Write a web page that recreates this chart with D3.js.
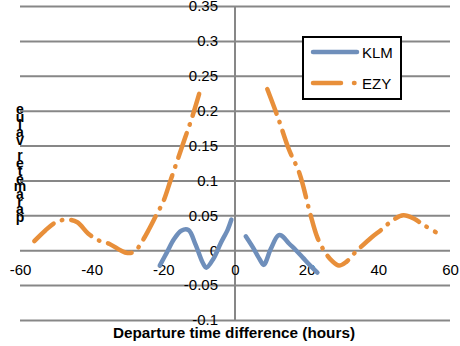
<!DOCTYPE html>
<html>
<head>
<meta charset="utf-8">
<script src="https://cdn.jsdelivr.net/npm/d3@7"></script>
<style>
  body { margin: 0; background: #fff; }
  svg { display: block; font-family: "Liberation Sans", Arial, sans-serif; }
</style>
</head>
<body>
<svg id="chart" width="460" height="346"></svg>
<script>
// values (hours, parameter value); null = gap in the line
const klmHours  = [-21, -19, -17, -15, -13, -11, -9, -8, -6, -4, -2, -1, null, 3, 5, 7, 8, 10, 12, 13, 15, 17, 19, 21, 23];
const klmValues = [-0.022, -0.003, 0.016, 0.028, 0.029, 0.008, -0.018, -0.025, -0.012, 0.01, 0.03, 0.044, null,
                   0.02, 0.004, -0.014, -0.021, 0.002, 0.021, 0.021, 0.01, 0.0, -0.011, -0.022, -0.032];

const ezyHours  = [-56, -53, -50, -47, -44, -41, -38, -35, -32, -30, -28, -26, -24, -22, -20, -18, -16, -14, -12, -10,
                   null, 9, 12, 15, 18, 21, 23, 25, 27, 29, 31, 33, 35, 38, 41, 44, 47, 50, 53, 56];
const ezyValues = [0.013, 0.028, 0.040, 0.044, 0.040, 0.024, 0.014, 0.009, 0.0, -0.004, -0.002, 0.012, 0.03, 0.05, 0.07,
                   0.1, 0.13, 0.16, 0.19, 0.224,
                   null, 0.231, 0.19, 0.145, 0.11, 0.052, 0.018, -0.002, -0.015, -0.022, -0.017, -0.006, 0.004, 0.018,
                   0.03, 0.043, 0.05, 0.045, 0.035, 0.026];

const seriesNames = ["KLM", "EZY"];
const seriesColors = ["#6f8fbb", "#e88f3a"];

const xTicks = [-60, -40, -20, 0, 20, 40, 60];
const xLabels = ["-60", "-40", "-20", "0", "20", "40", "60"];
const yTicks = [0.35, 0.3, 0.25, 0.2, 0.15, 0.1, 0.05, 0, -0.05, -0.1];
const yLabels = ["0.35", "0.3", "0.25", "0.2", "0.15", "0.1", "0.05", "0", "-0.05", "-0.1"];

const yTitle = "parameter value";
const xTitle = "Departure time difference (hours)";

const svg = d3.select("#chart");

const x = d3.scaleLinear().domain([-60, 60]).range([20, 450]);
const y = d3.scaleLinear().domain([-0.1, 0.35]).range([320, 6]);

const gridColor = "#878787";

// horizontal gridlines
svg.append("g")
  .call(d3.axisLeft(y).tickValues(yTicks).tickSize(-(x.range()[1] - x.range()[0])).tickFormat(""))
  .attr("transform", `translate(${x.range()[0]},0)`)
  .call(g => g.select(".domain").remove())
  .call(g => g.selectAll("line").attr("stroke", gridColor).attr("stroke-width", 2));

// vertical axis line at x = 0
svg.append("line")
  .attr("x1", x(0)).attr("x2", x(0))
  .attr("y1", y(0.35)).attr("y2", y(-0.1))
  .attr("stroke", gridColor).attr("stroke-width", 2);

// y tick labels
svg.append("g")
  .attr("transform", `translate(${x(0)},0)`)
  .call(d3.axisLeft(y).tickValues(yTicks).tickSize(0).tickPadding(17).tickFormat((d, i) => yLabels[i]))
  .call(g => g.select(".domain").remove())
  .call(g => g.selectAll("text").attr("font-size", 15).attr("fill", "#000").attr("font-family", null));

// x tick labels
svg.append("g")
  .attr("transform", `translate(0,${y(0)})`)
  .call(d3.axisBottom(x).tickValues(xTicks).tickSize(0).tickPadding(14.5).tickFormat((d, i) => xLabels[i]))
  .call(g => g.select(".domain").remove())
  .call(g => g.selectAll("text").attr("font-size", 15).attr("fill", "#000").attr("font-family", null));

// lines
const line = d3.line()
  .defined(d => d[0] != null && d[1] != null)
  .x(d => x(d[0]))
  .y(d => y(d[1]))
  .curve(d3.curveCatmullRom.alpha(0.5));

const klm = d3.zip(klmHours, klmValues);
const ezy = d3.zip(ezyHours, ezyValues);

svg.append("path")
  .attr("d", line(klm))
  .attr("fill", "none")
  .attr("stroke", seriesColors[0])
  .attr("stroke-width", 4.5)
  .attr("stroke-linecap", "round")
  .attr("stroke-linejoin", "round");

svg.append("path")
  .attr("d", line(ezy))
  .attr("fill", "none")
  .attr("stroke", seriesColors[1])
  .attr("stroke-width", 4.5)
  .attr("stroke-linecap", "round")
  .attr("stroke-linejoin", "round")
  .attr("stroke-dasharray", "26,9,0.5,9");

// y title: letters stacked bottom to top
const letters = yTitle.split("");
svg.append("g")
  .selectAll("text")
  .data(letters)
  .join("text")
  .attr("x", 20)
  .attr("y", (d, i) => 222 - i * 7.7)
  .attr("text-anchor", "middle")
  .attr("font-size", 14)
  .attr("font-weight", "bold")
  .text(d => d);

// x title
svg.append("text")
  .attr("x", 234)
  .attr("y", 338)
  .attr("text-anchor", "middle")
  .attr("font-size", 14)
  .attr("font-weight", "bold")
  .attr("textLength", 242)
  .attr("lengthAdjust", "spacingAndGlyphs")
  .text(xTitle);

// legend
const legend = svg.append("g").attr("transform", "translate(303,37)");
legend.append("rect")
  .attr("width", 98).attr("height", 62)
  .attr("fill", "#fff").attr("stroke", "#000").attr("stroke-width", 2);

const legendRows = legend.selectAll("g.row")
  .data(seriesNames)
  .join("g")
  .attr("class", "row")
  .attr("transform", (d, i) => `translate(0,${15 + i * 31})`);

legendRows.append("line")
  .attr("x1", 10).attr("x2", 54)
  .attr("stroke", (d, i) => seriesColors[i])
  .attr("stroke-width", 4.5)
  .attr("stroke-linecap", "round")
  .attr("stroke-dasharray", (d, i) => i === 1 ? "28,13,0.5,20" : null);

legendRows.append("text")
  .attr("x", 59)
  .attr("y", 5.5)
  .attr("font-size", 15)
  .text(d => d);
</script>
</body>
</html>
